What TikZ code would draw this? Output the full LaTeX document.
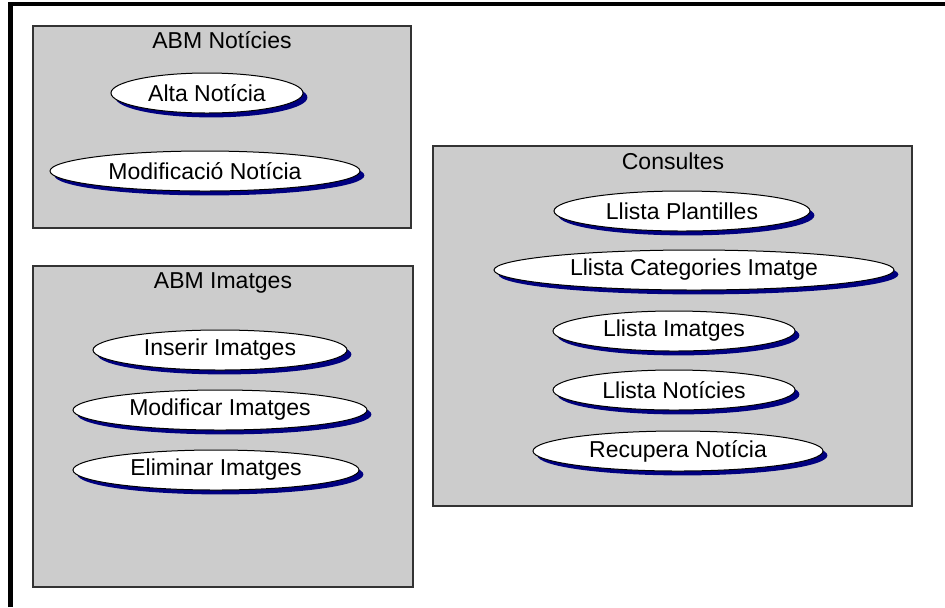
\documentclass[tikz,border=0pt]{standalone}
\usepackage{fontspec}
\setmainfont{Liberation Sans}
\usetikzlibrary{shapes.geometric,shadows}
\definecolor{packgrey}{HTML}{CCCCCC}
\definecolor{packedge}{HTML}{333333}
\definecolor{caseshadow}{HTML}{000080}

\tikzset{
    package/.style={fill=packgrey, draw=packedge, line width=0.9pt},
    packtitle/.style={anchor=north, inner sep=0pt, font=\fontsize{11.5}{13}\selectfont},
    usecase/.style={ellipse, draw=black, fill=white, line width=0.5pt,
        minimum width=#1, minimum height=20pt, inner sep=0pt,
        font=\fontsize{11.5}{13}\selectfont,
        general shadow={fill=caseshadow, shadow xshift=2.2pt, shadow yshift=-2.2pt}}
}

\begin{document}
\begin{tikzpicture}[x=0.5pt, y=-0.5pt]

    % Page area
    \useasboundingbox (0,0) rectangle (945,607);
    \fill[white] (0,0) rectangle (945,607);
    \draw[black, line width=2.2pt] (10.5,607) -- (10.5,4) -- (945,4);

    % Package: ABM Noticies
    \draw[package] (33,26) rectangle (411,228);
    \node[packtitle] (tnot) at (222,31) {ABM Notícies};
    \node[usecase=96pt] (alta) at (207,93) {Alta Notícia};
    \node[usecase=155pt] (modnot) at (205,171) {Modificació Notícia};

    % Package: ABM Imatges
    \draw[package] (33,266) rectangle (413,587);
    \node[packtitle] (timg) at (223,272) {ABM Imatges};
    \node[usecase=127pt] (inserir) at (220,350) {Inserir Imatges};
    \node[usecase=147pt] (modimg) at (220,410) {Modificar Imatges};
    \node[usecase=143pt] (eliminar) at (216,470) {Eliminar Imatges};

    % Package: Consultes
    \draw[package] (433,146) rectangle (912,506);
    \node[packtitle] (tcons) at (673,152) {Consultes};
    \node[usecase=128pt] (plantilles) at (682,211) {Llista Plantilles};
    \node[usecase=200pt] (categories) at (694,270) {Llista Categories Imatge};
    \node[usecase=121pt] (imatges) at (674,331) {Llista Imatges};
    \node[usecase=121pt] (noticies) at (674,390) {Llista Notícies};
    \node[usecase=145pt] (recupera) at (678,451) {Recupera Notícia};

\end{tikzpicture}
\end{document}
